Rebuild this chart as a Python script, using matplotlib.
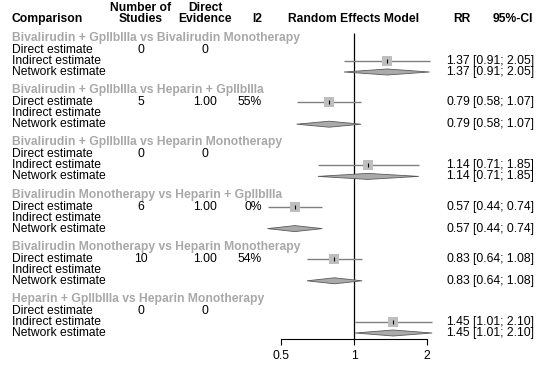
import matplotlib
matplotlib.use("Agg")
import matplotlib.pyplot as plt
import matplotlib.transforms as mtransforms
import numpy as np

plt.rcParams['font.family'] = ['Liberation Sans', 'DejaVu Sans']

# ---------------- data ----------------
comparisons = [
    "Bivalirudin + GpIIbIIIa vs Bivalirudin Monotherapy",
    "Bivalirudin + GpIIbIIIa vs Heparin + GpIIbIIIa",
    "Bivalirudin + GpIIbIIIa vs Heparin Monotherapy",
    "Bivalirudin Monotherapy vs Heparin + GpIIbIIIa",
    "Bivalirudin Monotherapy vs Heparin Monotherapy",
    "Heparin + GpIIbIIIa vs Heparin Monotherapy",
]
n_studies = ["0", "5", "0", "6", "10", "0"]
direct_evidence = ["0", "1.00", "0", "1.00", "1.00", "0"]
i2 = ["", "55%", "", "0%", "54%", ""]

# estimate kind per comparison: 'direct' or 'indirect'
est_kind = ["indirect", "direct", "indirect", "direct", "direct", "indirect"]
rr = [1.37, 0.79, 1.14, 0.57, 0.83, 1.45]
ci_lo = [0.91, 0.58, 0.71, 0.44, 0.64, 1.01]
ci_hi = [2.05, 1.07, 1.85, 0.74, 1.08, 2.10]

row_labels = ["Direct estimate", "Indirect estimate", "Network estimate"]
xticks = [0.5, 1, 2]
xtick_labels = ["0.5", "1", "2"]

# ---------------- layout ----------------
W, H = 537, 367
fig = plt.figure(figsize=(W / 100, H / 100), dpi=100)

ax_left_px, ax_right_px, ax_bottom_px = 281, 427, 339
ax = fig.add_axes([ax_left_px / W, (H - ax_bottom_px) / H,
                   (ax_right_px - ax_left_px) / W, ax_bottom_px / H])
ax.set_xscale('log')
ax.set_xlim(0.5, 2)
ax.set_ylim(ax_bottom_px, 0)  # y measured in pixels from top
for s in ['top', 'right', 'left']:
    ax.spines[s].set_visible(False)
ax.spines['bottom'].set_linewidth(0.8)
ax.set_yticks([])
ax.set_xticks(xticks)
ax.set_xticklabels(xtick_labels)
ax.xaxis.set_minor_locator(matplotlib.ticker.NullLocator())
ax.tick_params(axis='x', direction='out', length=4, width=0.8, pad=4, labelsize=8.7)
ax.patch.set_visible(False)

tr = mtransforms.blended_transform_factory(fig.transFigure, ax.transData)

def fx(px):
    return px / W

FS = 8.7
GRAY_TITLE = '#A8A8A8'

# header
hdr_y2, hdr_y1 = 19, 8
ax.text(fx(12), hdr_y2, "Comparison", transform=tr, ha='left', va='center',
        fontsize=FS, fontweight='bold', clip_on=False)
ax.text(fx(141), hdr_y1, "Number of", transform=tr, ha='center', va='center',
        fontsize=FS, fontweight='bold', clip_on=False)
ax.text(fx(141), hdr_y2, "Studies", transform=tr, ha='center', va='center',
        fontsize=FS, fontweight='bold', clip_on=False)
ax.text(fx(205), hdr_y1, "Direct", transform=tr, ha='center', va='center',
        fontsize=FS, fontweight='bold', clip_on=False)
ax.text(fx(205), hdr_y2, "Evidence", transform=tr, ha='center', va='center',
        fontsize=FS, fontweight='bold', clip_on=False)
ax.text(fx(262), hdr_y2, "I2", transform=tr, ha='right', va='center',
        fontsize=FS, fontweight='bold', clip_on=False)
ax.text(1, hdr_y2, "Random Effects Model", ha='center', va='center',
        fontsize=FS, fontweight='bold', clip_on=False)
ax.text(fx(470), hdr_y2, "RR", transform=tr, ha='right', va='center',
        fontsize=FS, fontweight='bold', clip_on=False)
ax.text(fx(533), hdr_y2, "95%-CI", transform=tr, ha='right', va='center',
        fontsize=FS, fontweight='bold', clip_on=False)

# reference line
ax.vlines(1, 33, ax_bottom_px, color='black', lw=0.9, zorder=1)

group_top, group_step = 38, 52.2
offsets = [12, 23, 34]
diamond_half = 3.0

for g in range(len(comparisons)):
    yt = group_top + group_step * g
    ax.text(fx(12), yt, comparisons[g], transform=tr, ha='left', va='center',
            fontsize=FS, fontweight='bold', color=GRAY_TITLE, clip_on=False)
    ys = [yt + o for o in offsets]
    for lab, y in zip(row_labels, ys):
        ax.text(fx(12), y, lab, transform=tr, ha='left', va='center',
                fontsize=FS, clip_on=False)
    # direct row columns
    ax.text(fx(141), ys[0], n_studies[g], transform=tr, ha='center', va='center',
            fontsize=FS, clip_on=False)
    ax.text(fx(205), ys[0], direct_evidence[g], transform=tr, ha='center', va='center',
            fontsize=FS, clip_on=False)
    if i2[g]:
        ax.text(fx(262), ys[0], i2[g], transform=tr, ha='right', va='center',
                fontsize=FS, clip_on=False)
    rr_txt = f"{rr[g]:.2f}"
    ci_txt = f"[{ci_lo[g]:.2f}; {ci_hi[g]:.2f}]"
    y_est = ys[0] if est_kind[g] == 'direct' else ys[1]
    for y in (y_est, ys[2]):
        ax.text(fx(470), y, rr_txt, transform=tr, ha='right', va='center',
                fontsize=FS, clip_on=False)
        ax.text(fx(534), y, ci_txt, transform=tr, ha='right', va='center',
                fontsize=FS, clip_on=False)
    # square + CI
    ax.hlines(y_est, ci_lo[g], ci_hi[g], color='#808080', lw=1.0, zorder=2, clip_on=False)
    ax.plot([rr[g]], [y_est], marker='s', markersize=7.2, color='#BEBEBE',
            markeredgewidth=0, zorder=3, clip_on=False)
    ax.plot([rr[g]], [y_est], marker='|', markersize=3, color='black',
            markeredgewidth=0.8, zorder=4, clip_on=False)
    # diamond
    yn = ys[2]
    ax.fill([ci_lo[g], rr[g], ci_hi[g], rr[g]],
            [yn, yn - diamond_half, yn, yn + diamond_half],
            facecolor='#AAAAAA', edgecolor='#5A5A5A', lw=0.6, zorder=3, clip_on=False)

fig.savefig("out.png", dpi=100)
